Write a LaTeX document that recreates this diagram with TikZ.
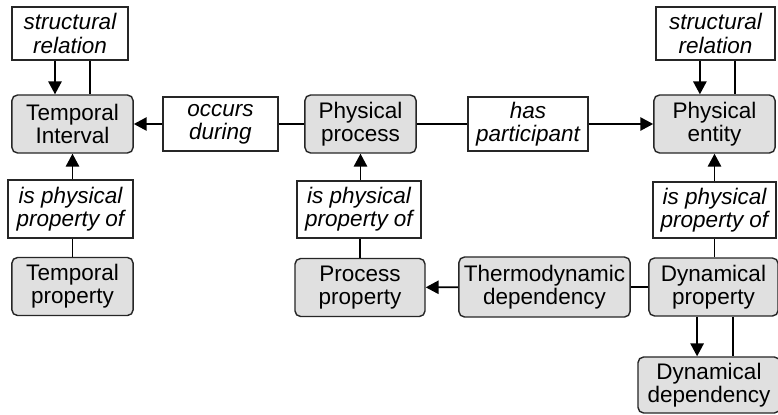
\documentclass[tikz,border=0pt]{standalone}
\usepackage{fontspec}
\setmainfont{Liberation Sans}
\usepackage{tikz}
\usetikzlibrary{arrows.meta, positioning}

\begin{document}
\begin{tikzpicture}[
    x=0.025cm, y=-0.025cm,
    concept/.style={rectangle, draw=black!85, fill=black!12, line width=1pt, rounded corners=4pt, minimum height=1.45cm, inner sep=0pt, align=center, font=\fontsize{16}{16.6}\selectfont},
    relation/.style={rectangle, draw=black!85, fill=white, line width=1pt, minimum height=1.35cm, inner sep=0pt, align=center, font=\fontsize{16}{16.6}\selectfont\itshape},
    link/.style={line width=1.3pt},
    arr/.style={line width=1.3pt, -{Triangle[length=0.32cm, width=0.33cm]}}
]
\useasboundingbox (0,0) rectangle (778,415);

% Concepts
\node[concept, minimum width=3.03cm] (tint)     at (72.5,124) {Temporal\\Interval};
\node[concept, minimum width=2.78cm] (pproc)    at (360.5,124) {Physical\\process};
\node[concept, minimum width=3.03cm] (pent)     at (714.5,124) {Physical\\entity};
\node[concept, minimum width=3.03cm] (tprop)    at (72.5,286.5) {Temporal\\property};
\node[concept, minimum width=3.25cm] (procprop) at (360,287.5) {Process\\property};
\node[concept, minimum width=4.28cm, minimum height=1.5cm] (thermo) at (544.5,287) {Thermodynamic\\dependency};
\node[concept, minimum width=3.23cm] (dynprop)  at (713.5,287) {Dynamical\\property};
\node[concept, minimum width=3.55cm, minimum height=1.4cm] (dyndep) at (709,385) {Dynamical\\dependency};

% Relations
\node[relation, minimum width=2.9cm, minimum height=1.33cm] (srelL) at (70,33.5) {structural\\relation};
\node[relation, minimum width=2.98cm, minimum height=1.33cm] (srelR) at (715.5,33.5) {structural\\relation};
\node[relation, minimum width=2.88cm] (occurs)  at (220.5,124) {occurs\\during};
\node[relation, minimum width=3.0cm]  (haspart) at (528,124) {has\\participant};
\node[relation, minimum width=3.13cm, minimum height=1.45cm] (ippL) at (70.5,209) {is physical\\property of};
\node[relation, minimum width=3.1cm, minimum height=1.43cm]  (ippM) at (359,209.5) {is physical\\property of};
\node[relation, minimum width=3.08cm, minimum height=1.4cm]  (ippR) at (714.5,210) {is physical\\property of};

% Structural relation loops
\draw[arr]  ([xshift=-0.375cm]srelL.south) -- ([xshift=-0.375cm]srelL.south |- tint.north);
\draw[link] ([xshift=0.5cm]srelL.south) -- ([xshift=0.5cm]srelL.south |- tint.north);
\draw[arr]  ([xshift=-0.39cm]srelR.south) -- ([xshift=-0.39cm]srelR.south |- pent.north);
\draw[link] ([xshift=0.49cm]srelR.south) -- ([xshift=0.49cm]srelR.south |- pent.north);

% Top row
\draw[link] (pproc) -- (occurs);
\draw[arr]  (occurs) -- (tint);
\draw[link] (pproc) -- (haspart);
\draw[arr]  (haspart) -- (pent);

% Property links
\draw[link] (tprop.north |- ippL.south) -- (tprop.north);
\draw[arr]  (tint.south |- ippL.north) -- (tint.south);
\draw[link] (procprop) -- (procprop |- ippM.south);
\draw[arr]  (pproc.south |- ippM.north) -- (pproc.south);
\draw[link] (ippR.south |- dynprop.north) -- (ippR.south);
\draw[arr]  (ippR.north) -- (ippR.north |- pent.south);

% Bottom row
\draw[link] (dynprop) -- (thermo);
\draw[arr]  (thermo) -- (procprop);
\draw[arr]  ([xshift=-0.41cm]dynprop.south) -- ([xshift=-0.41cm]dynprop.south |- dyndep.north);
\draw[link] ([xshift=0.49cm]dynprop.south) -- ([xshift=0.49cm]dynprop.south |- dyndep.north);

\end{tikzpicture}
\end{document}
